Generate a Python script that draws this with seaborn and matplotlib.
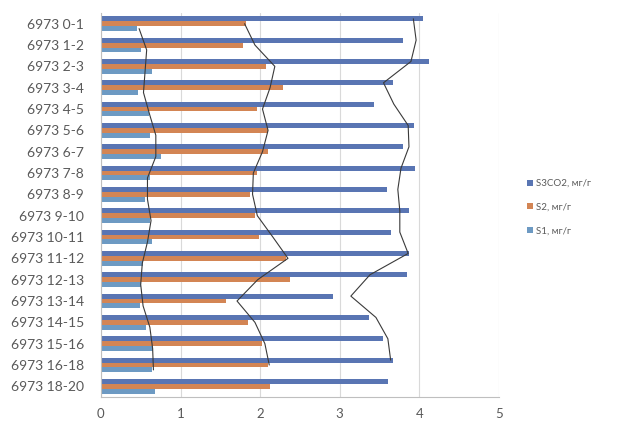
import numpy as np
import pandas as pd
import matplotlib
matplotlib.use("Agg")
import matplotlib.pyplot as plt
import seaborn as sns

categories = ["6973 0-1", "6973 1-2", "6973 2-3", "6973 3-4", "6973 4-5", "6973 5-6",
              "6973 6-7", "6973 7-8", "6973 8-9", "6973 9-10", "6973 10-11", "6973 11-12",
              "6973 12-13", "6973 13-14", "6973 14-15", "6973 15-16", "6973 16-18", "6973 18-20"]
s3co2 = [4.05, 3.80, 4.12, 3.67, 3.43, 3.93, 3.79, 3.95, 3.59, 3.87, 3.64, 3.87,
         3.85, 2.91, 3.37, 3.54, 3.67, 3.61]
s2 = [1.82, 1.79, 2.08, 2.29, 1.96, 2.10, 2.10, 1.96, 1.87, 1.94, 1.99, 2.33,
      2.37, 1.57, 1.85, 2.02, 2.10, 2.13]
s1 = [0.45, 0.51, 0.64, 0.47, 0.60, 0.62, 0.76, 0.62, 0.55, 0.62, 0.64, 0.53,
      0.51, 0.49, 0.57, 0.66, 0.64, 0.68]
series_names = ["S3CO2, мг/г", "S2, мг/г", "S1, мг/г"]
series_values = [s3co2, s2, s1]
x_ticks = [0, 1, 2, 3, 4, 5]

colors = {"S3CO2, мг/г": "#4A6FC2", "S2, мг/г": "#E8803F", "S1, мг/г": "#5E9BD2"}

rows = []
for name, vals in zip(series_names, series_values):
    for c, v in zip(categories, vals):
        rows.append({"cat": c, "series": name, "value": v})
df = pd.DataFrame(rows)

sns.set_style("white")
plt.rcParams["font.family"] = ["Lato", "DejaVu Sans"]

fig = plt.figure(figsize=(6.19, 4.21), dpi=100)
ax = fig.add_axes([0.163, 0.057, 0.643, 0.912])

group_w = 0.69
sns.barplot(data=df, x="value", y="cat", hue="series", hue_order=series_names,
            order=categories, orient="h", palette=colors, width=group_w, gap=0,
            errorbar=None, ax=ax, zorder=2, linewidth=0)

# moving-average trendlines (period 2), like the Excel chart
bw = group_w / 3
offsets = [-bw, 0.0, bw]
for vals, off in zip(series_values, offsets):
    ma = pd.Series(vals).rolling(2).mean().shift(-1).iloc[:-1].to_numpy()
    ypos = np.arange(len(ma)) + off
    ax.plot(ma, ypos, color="#3A3A3A", lw=0.8, zorder=3)

ax.set_xlim(0, 5)
ax.set_ylim(len(categories) - 0.5, -0.5)
ax.set_xticks(x_ticks)
ax.set_xticklabels([str(t) for t in x_ticks])
ax.set_xlabel("")
ax.set_ylabel("")
ax.xaxis.grid(True, color="#D9D9D9", lw=0.8, zorder=0)
ax.set_axisbelow(True)
for s in ["top", "right"]:
    ax.spines[s].set_visible(False)
for s in ["left", "bottom"]:
    ax.spines[s].set_color("#BFBFBF")
    ax.spines[s].set_linewidth(0.8)

ax.tick_params(axis="x", length=0, labelsize=9.5, labelcolor="#595959", pad=8)
ax.tick_params(axis="y", which="major", length=0, labelsize=10, labelcolor="#595959", pad=12)
ax.set_yticks(np.arange(-0.5, len(categories), 1.0), minor=True)
ax.tick_params(axis="y", which="minor", length=4, color="#BFBFBF", width=0.8)

handles, labels = ax.get_legend_handles_labels()
ax.get_legend().remove()
fig.legend(handles, labels, loc="center left", bbox_to_anchor=(0.838, 0.508),
           frameon=False, fontsize=7, handlelength=0.6, handleheight=0.6,
           handletextpad=0.3, labelspacing=1.5, labelcolor="#595959")

fig.savefig("out.png", dpi=100)
